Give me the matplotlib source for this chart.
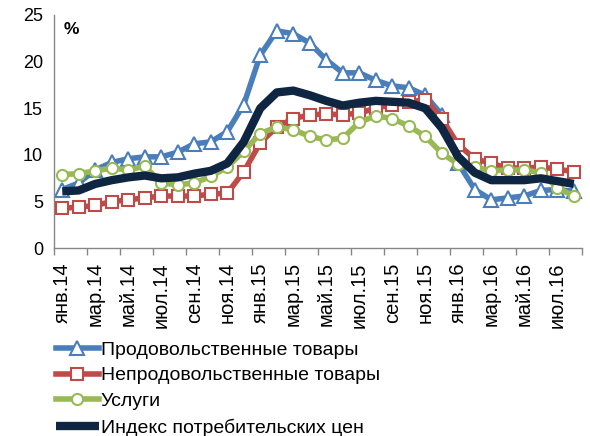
import matplotlib
matplotlib.use("Agg")
import matplotlib.pyplot as plt
import numpy as np

plt.rcParams['font.family'] = ['Liberation Sans', 'DejaVu Sans']

months = ["янв.14", "фев.14", "мар.14", "апр.14", "май.14", "июн.14", "июл.14", "авг.14",
          "сен.14", "окт.14", "ноя.14", "дек.14", "янв.15", "фев.15", "мар.15", "апр.15",
          "май.15", "июн.15", "июл.15", "авг.15", "сен.15", "окт.15", "ноя.15", "дек.15",
          "янв.16", "фев.16", "мар.16", "апр.16", "май.16", "июн.16", "июл.16", "авг.16"]

food = [6.3, 7.0, 8.4, 9.2, 9.6, 9.8, 9.8, 10.3, 11.2, 11.4, 12.5, 15.4, 20.7, 23.3, 23.0, 22.0,
        20.2, 18.8, 18.8, 18.0, 17.4, 17.2, 16.4, 14.3, 9.1, 6.3, 5.2, 5.4, 5.6, 6.2, 6.3, 6.1]
nonfood = [4.3, 4.4, 4.6, 5.0, 5.2, 5.4, 5.6, 5.6, 5.6, 5.8, 5.9, 8.2, 11.3, 13.0, 13.9, 14.3,
           14.4, 14.3, 14.5, 15.0, 15.4, 15.7, 15.9, 13.9, 11.1, 9.6, 9.1, 8.6, 8.6, 8.7, 8.5, 8.2]
services = [7.9, 8.0, 8.3, 8.6, 8.4, 8.8, 7.0, 6.8, 7.0, 7.7, 8.7, 10.4, 12.3, 13.0, 12.7, 12.0,
            11.6, 11.8, 13.5, 14.2, 13.9, 13.1, 12.0, 10.2, 9.0, 8.7, 8.3, 8.4, 8.4, 8.1, 6.5, 5.6]
cpi = [6.1, 6.2, 6.9, 7.3, 7.6, 7.8, 7.5, 7.6, 8.0, 8.3, 9.1, 11.4, 15.0, 16.7, 16.9, 16.4,
       15.8, 15.3, 15.6, 15.8, 15.7, 15.6, 15.0, 12.9, 9.8, 8.1, 7.3, 7.3, 7.3, 7.5, 7.2, 6.9]

labels = ["Продовольственные товары", "Непродовольственные товары", "Услуги",
          "Индекс потребительских цен"]
yticks = [0, 5, 10, 15, 20, 25]

c_food = "#4A7EBB"
c_nonfood = "#BE4B48"
c_serv = "#98B954"
c_cpi = "#0E2641"

fig = plt.figure(figsize=(5.9, 4.36), dpi=100)
ax = fig.add_axes([54/590, 1-248.3/436, (582-54)/590, (248.3-15)/436])

x = np.arange(len(months))
ax.plot(x, food, color=c_food, lw=4, marker="^", ms=10, mfc="white", mec=c_food, mew=1.5,
        solid_joinstyle="round", label=labels[0], zorder=2)
ax.plot(x, nonfood, color=c_nonfood, lw=4, marker="s", ms=8, mfc="white", mec=c_nonfood, mew=1.5,
        solid_joinstyle="round", label=labels[1], zorder=3)
ax.plot(x, services, color=c_serv, lw=4, marker="o", ms=8, mfc="white", mec=c_serv, mew=1.5,
        solid_joinstyle="round", label=labels[2], zorder=4)
ax.plot(x, cpi, color=c_cpi, lw=6, solid_joinstyle="round", solid_capstyle="butt",
        label=labels[3], zorder=5)

ax.set_xlim(-0.5, len(months) - 0.5)
ax.set_ylim(0, 25)
ax.set_yticks(yticks)
ax.tick_params(axis="y", length=0, labelsize=13, pad=8)

ax.set_xticks(x[::2])
ax.set_xticklabels(months[::2], rotation=90, fontsize=14.5)
ax.tick_params(axis="x", which="major", length=0, pad=10)
ax.set_xticks(np.arange(-0.5, len(months), 2), minor=True)
ax.tick_params(axis="x", which="minor", length=5, color="#868686", width=1)

for s in ["top", "right"]:
    ax.spines[s].set_visible(False)
for s in ["left", "bottom"]:
    ax.spines[s].set_color("#868686")
    ax.spines[s].set_linewidth(1)

ax.text(0.018, 0.97, "%", transform=ax.transAxes, fontsize=12.5, fontweight="bold",
        va="top", ha="left")

leg = fig.legend(loc="upper left", bbox_to_anchor=(56/590, 1-341/436), frameon=False,
                 fontsize=14, handlelength=2.2, handletextpad=0.1, labelspacing=0.42,
                 borderaxespad=0, borderpad=0)

fig.savefig("out.png", dpi=100)
